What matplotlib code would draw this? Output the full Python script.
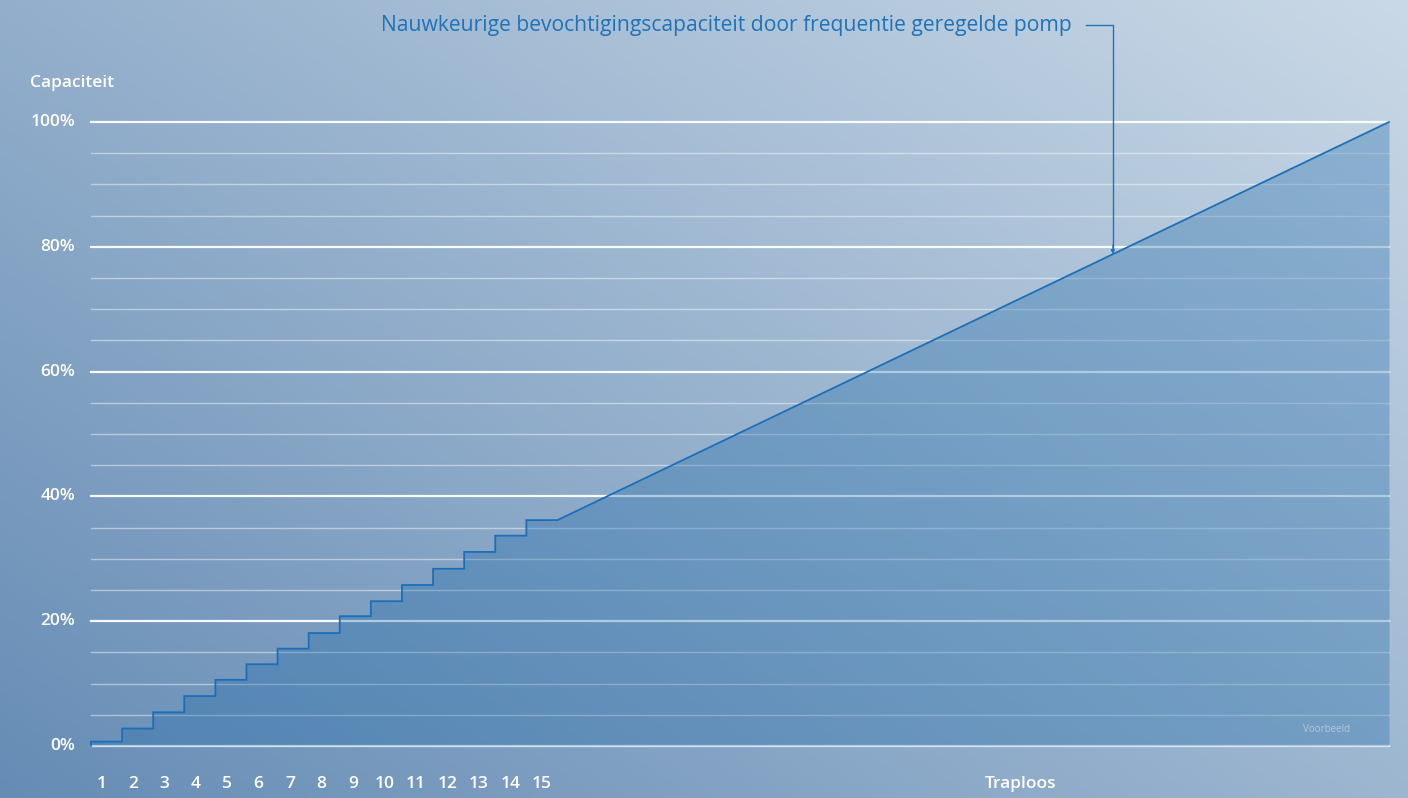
import numpy as np
import matplotlib
matplotlib.use("Agg")
import matplotlib.pyplot as plt
from matplotlib.colors import to_rgb

# ---- data ----
step_labels = [str(i) for i in range(1, 16)]
step_levels = [0.7, 2.8, 5.4, 8.0, 10.6, 13.1, 15.6, 18.1, 20.8, 23.2, 25.8, 28.4, 31.1, 33.7, 36.2]
ramp_end_x = 41.74      # end of the stepless range (in step widths)
ramp_end_y = 100.0
y_major = [0, 20, 40, 60, 80, 100]
y_major_labels = ["0%", "20%", "40%", "60%", "80%", "100%"]
y_minor = [5, 10, 15, 25, 30, 35, 45, 50, 55, 65, 70, 75, 85, 90, 95]
title_text = "Nauwkeurige bevochtigingscapaciteit door frequentie geregelde pomp"
annot_x = 32.86

W, H, DPI = 1408, 798, 100
fig = plt.figure(figsize=(W / DPI, H / DPI), dpi=DPI)

# background gradient
bg = fig.add_axes([0, 0, 1, 1], zorder=0)
bg.axis("off")
u = np.linspace(0, 1, 400)[None, :]
v = np.linspace(1, 0, 240)[:, None]
t = np.clip(0.55 * u + 0.45 * v, 0, 1)
c0 = np.array(to_rgb("#668cb5"))
c1 = np.array(to_rgb("#cad9e7"))
img = c0[None, None, :] * (1 - t[..., None]) + c1[None, None, :] * t[..., None]
bg.imshow(img, aspect="auto", extent=[0, 1, 0, 1], interpolation="bilinear")
bg.set_xlim(0, 1)
bg.set_ylim(0, 1)

ax = fig.add_axes([91 / W, 52 / H, (1389 - 91) / W, (676 - 52) / H], zorder=1)
ax.patch.set_alpha(0)
ax.set_xlim(0, ramp_end_x)
ax.set_ylim(0, 100)
for s in ax.spines.values():
    s.set_visible(False)
ax.set_xticks([])
ax.set_yticks([])

# grid lines
for yv in y_minor:
    ax.axhline(yv, color="white", lw=1.0, alpha=0.45, zorder=1, clip_on=False)
for yv in y_major:
    ax.axhline(yv, color="white", lw=1.6, alpha=0.95, zorder=1, clip_on=False)

# build profile
xs = [0.0]
ys = [0.0]
for i, lvl in enumerate(step_levels):
    xs += [float(i), float(i + 1)]
    ys += [lvl, lvl]
xs.append(ramp_end_x)
ys.append(ramp_end_y)
xs = np.array(xs)
ys = np.array(ys)

ax.fill_between(xs, ys, 0, color="#1e6aa8", alpha=0.33, lw=0, zorder=2)
ax.plot(xs, ys, color="#1a6fb8", lw=1.3, zorder=3, clip_on=False,
        solid_joinstyle="miter")

fam = ["Open Sans", "DejaVu Sans"]
FS = 12.5

# y labels
for yv, lab in zip(y_major, y_major_labels):
    ax.text(75, ax.transData.transform((0, yv))[1], lab, transform=None,
            ha="right", va="center", color="white", fontsize=FS,
            fontweight="semibold", family=fam)
fig.text(30 / W, 1 - 83 / H, "Capaciteit", ha="left", va="center", color="white",
         fontsize=FS, fontweight="semibold", family=fam)

# x labels
ylab = -(784 - 746) / (676 - 52)
for i, lab in enumerate(step_labels):
    ax.text(i + 0.33 + 0.012 * i, ylab, lab, transform=ax.get_xaxis_transform(),
            ha="center", va="center", color="white", fontsize=FS,
            fontweight="semibold", family=fam)
ax.text((1021 - 91) / 31.1, ylab, "Traploos",
        transform=ax.get_xaxis_transform(), ha="center", va="center",
        color="white", fontsize=FS, fontweight="semibold", family=fam)

fig.text(1350 / W, 1 - 729 / H, "Voorbeeld", ha="right", va="center",
         color="white", alpha=0.45, fontsize=7, family=fam)

# title annotation, fit to width
tt = fig.text(1072 / W, 1 - 25 / H, title_text, ha="right", va="center",
              color="#1f73b7", fontsize=16, family=fam)
fig.canvas.draw()
r = fig.canvas.get_renderer()
wpx = tt.get_window_extent(r).width
tt.set_fontsize(16 * 694 / wpx)

ya = float(np.interp(annot_x, xs, ys))
ax_pt = ax.transData.inverted()
top = ax_pt.transform((1113, H - 25))
start = ax_pt.transform((1086, H - 25))
ax.plot([start[0], top[0], top[0]], [start[1], top[1], ya + 0.8], color="#1f73b7",
        lw=1.0, clip_on=False, zorder=4)
ax.annotate("", xy=(annot_x, ya), xytext=(annot_x, ya + 1.5),
            arrowprops=dict(arrowstyle="-|>", color="#1f73b7", lw=0.8,
                            mutation_scale=6, shrinkA=0, shrinkB=0),
            zorder=4, annotation_clip=False)

fig.savefig("out.png", dpi=DPI)
